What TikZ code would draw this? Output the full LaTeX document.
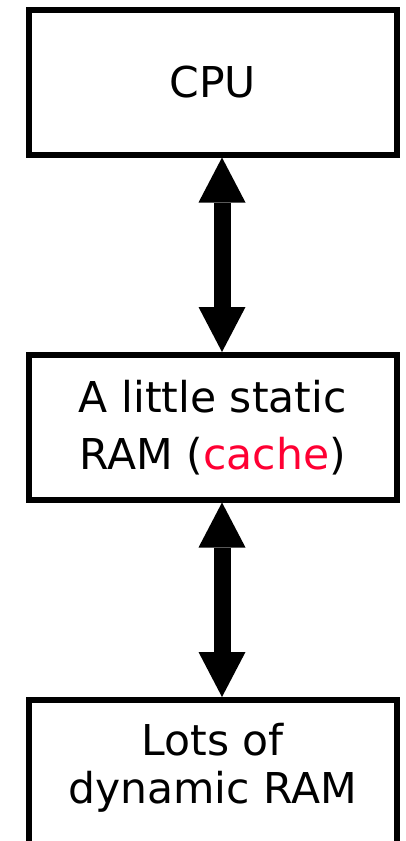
\documentclass[tikz,border=0pt]{standalone}
\usepackage{fontspec}
\setmainfont{DejaVu Sans}
\usetikzlibrary{arrows.meta}
\definecolor{cachered}{RGB}{255,0,51}
\begin{document}
\begin{tikzpicture} [x=1pt, y=-1pt,
		memorybox/.style = {draw, line width=6pt, outer sep=3pt, inner sep=0pt, minimum width=368.5pt, minimum height=144.5pt, align=center},
		bustip/.tip = {Triangle[width=47pt, length=45pt, line width=0pt]},
		busarrow/.style = {line width=17pt, bustip-bustip}]
		%\draw [thin, help lines] (0,0) grid [step=50] (405,841);
		\useasboundingbox (0,0) rectangle (405,841);
		\node [memorybox, font=\fontsize{42.5}{57}\selectfont] (cpu) at (212.75,82.25) {CPU};
		\node [memorybox, font=\fontsize{42.5}{57}\selectfont] (cache) at (212.75,427.25) {A little static\\RAM (\textcolor{cachered}{cache})};
		\node [memorybox, font=\fontsize{42.5}{48}\selectfont, text depth=18pt] (dram) at (212.75,772.25) {Lots of\\dynamic RAM};
		\coordinate (bus) at (222,0);
		\draw [busarrow] (cpu.south -| bus) -- (cache.north -| bus);
		\draw [busarrow] (cache.south -| bus) -- (dram.north -| bus);
	\end{tikzpicture}
\end{document}
